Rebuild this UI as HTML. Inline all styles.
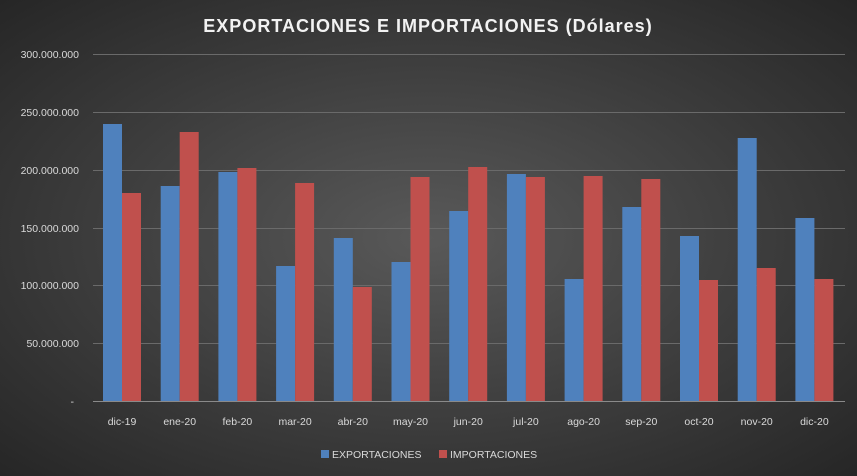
<!DOCTYPE html>
<html><head><meta charset="utf-8"><style>
html,body{margin:0;padding:0;width:857px;height:476px;overflow:hidden;}
body{background:radial-gradient(ellipse at 50% 50%,#595959 0%,#3a3a3a 60%,#262626 100%);font-family:"Liberation Sans",sans-serif;}
</style></head><body>
<svg width="857" height="476" xmlns="http://www.w3.org/2000/svg" font-family="Liberation Sans, sans-serif">
<text x="428" y="32" text-anchor="middle" fill="#f2f2f2" font-size="18" font-weight="bold" letter-spacing="1">EXPORTACIONES  E IMPORTACIONES  (Dólares)</text>
<g stroke="#6a6a6a" stroke-width="1">
<line x1="93" x2="845" y1="54.5" y2="54.5"/><line x1="93" x2="845" y1="112.5" y2="112.5"/>
<line x1="93" x2="845" y1="170.5" y2="170.5"/><line x1="93" x2="845" y1="228.5" y2="228.5"/>
<line x1="93" x2="845" y1="285.5" y2="285.5"/><line x1="93" x2="845" y1="343.5" y2="343.5"/>
<line x1="93" x2="845" y1="401.5" y2="401.5" stroke="#8a8a8a"/>
</g>
<g fill="#d9d9d9" font-size="10.5" text-anchor="end">
<text x="79" y="58">300.000.000</text><text x="79" y="116">250.000.000</text>
<text x="79" y="174">200.000.000</text><text x="79" y="232">150.000.000</text>
<text x="79" y="289">100.000.000</text><text x="79" y="347">50.000.000</text>
<text x="74" y="405">-</text>
</g>
<g id="bars"></g>
<g fill="#d9d9d9" font-size="10.5" text-anchor="middle" id="labels"></g>
<rect x="321" y="450" width="8" height="8" fill="#4f81bd"/>
<text x="332" y="458" fill="#d9d9d9" font-size="10.5">EXPORTACIONES</text>
<rect x="439" y="450" width="8" height="8" fill="#c0504d"/>
<text x="450" y="458" fill="#d9d9d9" font-size="10.5">IMPORTACIONES</text>
<script>
var labs=["dic-19","ene-20","feb-20","mar-20","abr-20","may-20","jun-20","jul-20","ago-20","sep-20","oct-20","nov-20","dic-20"];
var b=[124,186,172,266,238,262,211,174,279,207,236,138,218];
var r=[193,132,168,183,287,177,167,177,176,179,280,268,279];
var ns="http://www.w3.org/2000/svg",g=document.getElementById("bars"),L=document.getElementById("labels");
for(var i=0;i<13;i++){var c=122+i*57.7;
var e=document.createElementNS(ns,"rect");e.setAttribute("x",c-19);e.setAttribute("y",b[i]);e.setAttribute("width",19);e.setAttribute("height",401-b[i]);e.setAttribute("fill","#4f81bd");g.appendChild(e);
e=document.createElementNS(ns,"rect");e.setAttribute("x",c);e.setAttribute("y",r[i]);e.setAttribute("width",19);e.setAttribute("height",401-r[i]);e.setAttribute("fill","#c0504d");g.appendChild(e);
var t=document.createElementNS(ns,"text");t.setAttribute("x",c);t.setAttribute("y",425);t.textContent=labs[i];L.appendChild(t);}
</script>
</svg>
</body></html>
